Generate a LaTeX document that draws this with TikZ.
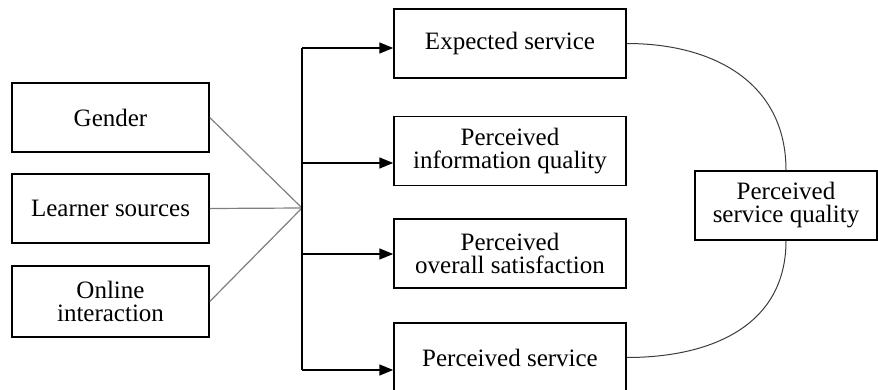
\documentclass[tikz,border=0pt]{standalone}
\usepackage{fontspec}
\setmainfont{Liberation Serif}
\usetikzlibrary{positioning}
\usetikzlibrary{arrows.meta}
\definecolor{lGray}{HTML}{7F7F7F}
\definecolor{dGray}{HTML}{3C3C3C}

\begin{document}
\begin{tikzpicture}[
    x=0.5pt, y=-0.5pt,
    box/.style = {draw, line width=0.75pt, align=center, inner sep=2pt, font=\fontsize{12.5}{11.5}\selectfont},
    factor/.style = {box, minimum width=98.5pt, minimum height=34.5pt},
    outcome/.style = {box, minimum width=116pt, minimum height=34.5pt},
    link/.style = {lGray, line width=0.6pt},
    arr/.style = {-{Triangle[length=7pt, width=5.5pt]}, line width=0.8pt},
    arc/.style = {dGray, line width=0.5pt},
    ]

    \useasboundingbox (0,0) rectangle (878,390);

    % factors
    \node[factor] (gender) at (110.5,117.5) {Gender};
    \node[factor] (learner) at (110.5,208.5) {Learner sources};
    \node[factor, minimum height=35.5pt] (online) at (110.5,301.5) {Online\\interaction};

    % outcomes
    \node[outcome] (es) at (510,43.5) {Expected service};
    \node[outcome] (piq) at (510,151) {Perceived\\information quality};
    \node[outcome] (pos) at (510,253.5) {Perceived\\overall satisfaction};
    \node[outcome] (ps) at (510,357.5) {Perceived service};

    \node[box, minimum width=91pt, minimum height=34.5pt] (psq) at (786,205.5) {Perceived\\service quality};

    % hub and arrow ends
    \coordinate (hub) at (302,208);
    \coordinate (in1) at (es.west |- 0,48);
    \coordinate (in2) at (piq.west |- 0,163);
    \coordinate (in3) at (pos.west |- 0,254);
    \coordinate (in4) at (ps.west |- 0,370);

    % factor -> hub
    \draw[link] (gender.east) -- (hub);
    \draw[link] (learner.east) -- (hub);
    \draw[link] (online.east) -- (hub);

    % hub -> outcome
    \draw[line width=0.8pt] (hub |- in1) -- (hub |- in4);
    \draw[arr] (hub |- in1) -- (in1);
    \draw[arr] (hub |- in2) -- (in2);
    \draw[arr] (hub |- in3) -- (in3);
    \draw[arr] (hub |- in4) -- (in4);

    % outcome -> service quality
    \draw[arc] (es.east) to[out=0, in=90, looseness=1.1] (psq.north);
    \draw[arc] (ps.east) to[out=0, in=-90, looseness=1.1] (psq.south);

\end{tikzpicture}
\end{document}
